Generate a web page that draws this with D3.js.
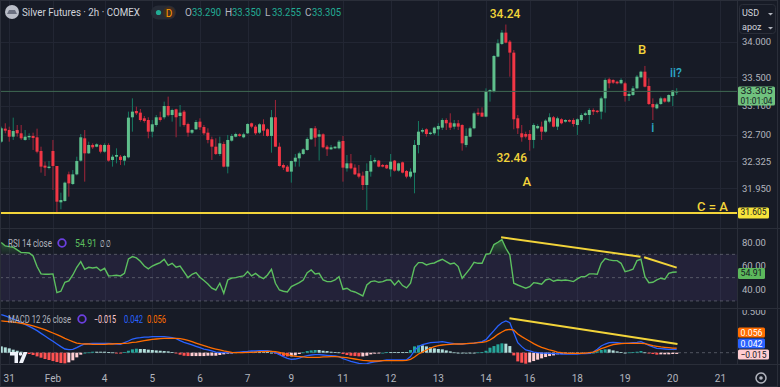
<!DOCTYPE html>
<meta charset="utf-8">
<script src="https://d3js.org/d3.v7.min.js"></script>
<style>
body { margin: 0; background: #171b26; }
svg text { font-family: Roboto, "Liberation Sans", sans-serif; }
</style>
<body>
<div id="chart"></div>
<script>

// ---- data (2h bars, index 0..170) ----
// [open, high, low, close]
var ohlc = [
 [32.602,32.812,32.588,32.789],[32.784,32.859,32.719,32.756],[32.765,32.812,32.602,32.672],[32.672,32.938,32.626,32.751],
 [32.765,32.835,32.672,32.719],[32.719,32.835,32.626,32.649],[32.626,32.765,32.616,32.672],[32.663,32.719,32.626,32.682],
 [32.682,32.728,32.486,32.654],[32.663,32.784,32.439,32.462],[32.472,32.532,32.169,32.253],[32.267,32.323,32.122,32.239],
 [32.234,32.332,32.215,32.253],[32.472,32.626,31.926,32.262],[32.262,32.262,31.600,31.763],[31.754,31.889,31.656,31.786],
 [31.772,32.043,31.763,32.029],[32.145,32.183,31.833,32.019],[32.010,32.206,31.996,32.145],[32.145,32.392,32.131,32.332],
 [32.337,32.709,32.323,32.663],[32.649,32.765,32.043,32.439],[32.439,32.602,32.430,32.556],[32.556,32.579,32.500,32.523],
 [32.532,32.579,32.523,32.565],[32.556,32.565,32.439,32.462],[32.462,32.579,32.448,32.556],[32.556,32.579,32.323,32.337],
 [32.346,32.420,32.253,32.392],[32.392,32.509,32.299,32.416],[32.392,32.416,32.276,32.346],[32.337,32.416,32.271,32.402],
 [32.383,33.022,32.369,32.938],[32.943,33.208,32.742,33.022],[33.031,33.092,32.975,32.999],[33.008,33.059,32.882,32.905],
 [32.929,32.961,32.868,32.891],[32.905,32.943,32.649,32.742],[32.742,32.905,32.663,32.845],[32.835,32.975,32.812,32.943],
 [32.943,33.022,32.882,32.905],[32.943,33.162,32.915,33.101],[33.101,33.232,32.952,32.971],[32.975,33.064,32.882,33.045],
 [33.054,33.064,32.663,32.943],[32.961,33.115,32.812,33.008],[33.022,33.045,32.812,32.835],[32.849,32.868,32.672,32.728],
 [32.728,32.779,32.709,32.765],[32.775,32.905,32.765,32.877],[32.882,32.929,32.765,32.803],[32.807,32.835,32.696,32.719],
 [32.728,32.789,32.579,32.626],[32.635,32.672,32.346,32.532],[32.532,32.649,32.416,32.430],[32.430,32.672,32.402,32.579],
 [32.570,32.602,32.243,32.253],[32.253,32.696,32.159,32.626],[32.616,32.709,32.602,32.682],[32.672,32.728,32.663,32.709],
 [32.705,32.719,32.672,32.682],[32.663,32.728,32.649,32.705],[32.719,32.859,32.709,32.849],[32.859,32.868,32.789,32.812],
 [32.812,32.835,32.696,32.719],[32.728,32.859,32.709,32.845],[32.845,32.915,32.682,32.756],[32.775,32.789,32.672,32.682],
 [32.682,33.045,32.448,32.943],[32.943,33.185,32.532,32.532],[32.532,32.588,32.253,32.262],[32.276,32.299,32.206,32.239],
 [32.253,32.276,32.178,32.183],[32.183,32.337,32.029,32.332],[32.323,32.430,32.253,32.378],[32.369,32.462,32.253,32.439],
 [32.430,32.509,32.416,32.495],[32.486,32.663,32.476,32.640],[32.635,32.793,32.626,32.789],[32.789,32.821,32.532,32.658],
 [32.672,32.765,32.337,32.705],[32.705,32.719,32.509,32.523],[32.532,32.556,32.402,32.495],[32.495,32.556,32.486,32.523],
 [32.509,32.542,32.500,32.532],[32.509,32.626,32.495,32.602],[32.612,32.682,32.043,32.239],[32.229,32.416,32.183,32.299],
 [32.299,32.430,32.215,32.229],[32.239,32.285,32.136,32.145],[32.159,32.276,32.089,32.113],[32.127,32.183,31.926,31.996],
 [31.996,32.299,31.646,32.192],[32.183,32.416,32.113,32.332],[32.323,32.378,32.299,32.346],[32.337,32.346,32.243,32.253],
 [32.276,32.290,32.243,32.253],[32.276,32.285,32.220,32.229],[32.215,32.430,32.113,32.323],[32.337,32.346,32.183,32.197],
 [32.197,32.309,32.183,32.299],[32.313,32.323,32.159,32.169],[32.192,32.206,32.089,32.113],[32.113,32.229,32.089,32.183],
 [32.169,32.626,31.880,32.556],[32.556,32.891,32.439,32.742],[32.742,32.789,32.719,32.765],[32.775,32.789,32.672,32.709],
 [32.709,32.742,32.696,32.728],[32.719,32.812,32.696,32.798],[32.775,32.859,32.682,32.821],[32.798,32.929,32.765,32.905],
 [32.905,32.929,32.765,32.859],[32.868,32.999,32.765,32.798],[32.812,32.905,32.775,32.859],[32.859,32.905,32.765,32.812],
 [32.835,32.845,32.476,32.579],[32.556,32.789,32.523,32.682],[32.672,32.812,32.663,32.789],[32.789,33.022,32.775,32.999],
 [33.008,33.068,32.961,32.985],[33.008,33.082,32.952,32.952],[32.952,33.348,32.943,33.302],[33.297,33.334,33.162,33.325],
 [33.302,33.814,33.288,33.800],[33.791,34.033,33.782,33.978],[33.968,34.164,33.954,34.127],[34.127,34.240,33.978,33.987],
 [34.001,34.024,33.511,33.847],[33.847,33.884,32.775,32.915],[32.929,32.975,32.709,32.789],[32.719,32.835,32.602,32.663],
 [32.709,32.742,32.649,32.672],[32.709,32.765,32.476,32.626],[32.626,32.859,32.509,32.835],[32.789,32.845,32.775,32.821],
 [32.812,32.882,32.626,32.742],[32.742,32.915,32.728,32.896],[32.882,32.999,32.859,32.943],[32.943,32.961,32.803,32.812],
 [32.812,32.952,32.765,32.929],[32.915,32.929,32.845,32.859],[32.882,32.915,32.868,32.905],[32.905,32.915,32.872,32.882],
 [32.905,32.929,32.812,32.849],[32.835,32.929,32.696,32.915],[32.905,32.999,32.882,32.975],[32.975,33.022,32.961,32.999],
 [32.975,33.068,32.849,33.045],[33.045,33.068,32.975,33.022],[33.036,33.045,32.999,33.017],[33.022,33.232,32.915,33.208],
 [33.208,33.488,33.008,33.465],[33.474,33.497,33.348,33.418],[33.465,33.474,33.409,33.427],[33.441,33.455,33.404,33.418],
 [33.418,33.488,33.404,33.465],[33.418,33.441,33.162,33.241],[33.241,33.302,33.171,33.269],[33.255,33.381,33.241,33.348],
 [33.348,33.535,33.334,33.511],[33.502,33.595,33.488,33.581],[33.581,33.661,33.362,33.371],[33.381,33.488,33.115,33.129],
 [33.129,33.208,32.905,33.082],[33.068,33.148,33.054,33.124],[33.129,33.232,33.115,33.208],[33.208,33.218,33.148,33.162],
 [33.162,33.264,33.148,33.255],[33.241,33.325,33.101,33.316],[33.290,33.350,33.255,33.305]
];

var rsi = [
 80.1,77.2,76.6,76.1,73.8,71.5,71.5,71.2,68.6,59.5,53.2,52.9,52.9,53.2,37.2,38.3,46.0,47.2,52.3,58.9,
 63.8,57.2,58.9,58.3,58.9,56.0,58.0,51.5,51.7,52.0,51.5,53.7,66.1,68.1,66.9,64.0,60.0,57.5,60.0,61.5,
 62.9,65.8,60.6,62.3,58.9,60.0,54.9,50.0,52.9,54.3,50.3,47.5,44.6,40.9,39.4,45.2,36.6,48.0,49.7,50.0,
 50.9,51.5,55.2,51.5,53.7,50.9,49.2,52.3,57.2,45.2,39.4,38.3,37.7,42.3,44.0,45.7,48.0,54.3,56.6,53.2,
 53.7,48.0,46.6,46.6,48.0,50.9,40.0,40.9,38.6,37.7,36.0,34.3,43.7,46.6,47.2,46.0,46.6,48.0,48.0,43.7,
 47.5,43.2,41.2,45.2,58.9,62.9,62.9,60.9,62.0,62.6,64.3,65.8,63.8,61.8,62.6,59.5,49.5,53.7,58.0,63.2,
 62.3,62.3,70.1,70.6,78.4,80.4,82.7,75.2,69.5,45.2,43.7,42.3,40.9,42.3,45.7,45.2,44.3,48.0,48.9,46.9,
 48.0,47.5,48.0,47.5,46.6,48.9,50.9,50.9,53.2,53.2,52.9,62.3,66.3,65.2,64.6,64.6,62.3,55.2,56.0,57.2,
 64.6,65.8,50.9,45.7,46.0,48.0,49.5,48.6,53.7,54.6,54.91
];

var macdLine = [
 0.464,0.448,0.431,0.411,0.391,0.370,0.346,0.322,0.297,0.269,0.236,0.204,0.171,0.139,0.106,0.074,0.045,0.037,0.041,0.061,
 0.086,0.106,0.110,0.114,0.114,0.114,0.114,0.114,0.110,0.106,0.102,0.122,0.143,0.167,0.179,0.183,0.191,0.191,0.196,0.196,
 0.196,0.196,0.191,0.183,0.171,0.147,0.126,0.110,0.094,0.078,0.061,0.045,0.033,0.021,0.008,0.004,0.000,0.000,0.000,0.004,
 0.008,0.013,0.016,0.021,0.021,0.025,0.025,0.025,0.016,0.000,-0.024,-0.048,-0.069,-0.081,-0.077,-0.065,-0.048,-0.036,-0.028,-0.024,
 -0.024,-0.028,-0.032,-0.036,-0.040,-0.048,-0.073,-0.089,-0.105,-0.117,-0.130,-0.138,-0.134,-0.122,-0.113,-0.105,-0.097,-0.089,-0.089,-0.089,
 -0.089,-0.089,-0.085,-0.048,0.025,0.074,0.098,0.110,0.122,0.126,0.130,0.135,0.126,0.118,0.110,0.106,0.106,0.110,0.114,0.118,
 0.126,0.135,0.159,0.216,0.269,0.326,0.366,0.387,0.366,0.244,0.122,0.074,0.033,0.021,0.008,0.000,-0.004,-0.004,-0.008,-0.012,
 -0.012,-0.016,-0.016,-0.016,-0.016,-0.016,-0.012,-0.012,-0.008,0.008,0.041,0.082,0.106,0.122,0.126,0.122,0.118,0.114,0.118,0.122,
 0.126,0.135,0.114,0.090,0.070,0.053,0.049,0.045,0.041,0.041,0.042
];

var signalLine = [
 0.387,0.383,0.378,0.374,0.366,0.358,0.350,0.338,0.326,0.313,0.297,0.281,0.261,0.240,0.220,0.200,0.175,0.155,0.135,0.118,
 0.110,0.106,0.106,0.102,0.102,0.102,0.102,0.106,0.106,0.110,0.110,0.114,0.118,0.126,0.130,0.139,0.147,0.155,0.163,0.167,
 0.171,0.175,0.175,0.175,0.175,0.171,0.163,0.151,0.135,0.118,0.102,0.086,0.070,0.057,0.045,0.033,0.021,0.013,0.004,0.000,
 0.000,0.000,0.004,0.004,0.008,0.013,0.013,0.016,0.016,0.013,0.004,-0.008,-0.024,-0.036,-0.044,-0.048,-0.052,-0.057,-0.057,-0.057,
 -0.057,-0.052,-0.052,-0.048,-0.048,-0.052,-0.057,-0.061,-0.069,-0.077,-0.085,-0.093,-0.097,-0.101,-0.101,-0.101,-0.097,-0.097,-0.097,-0.097,
 -0.097,-0.097,-0.093,-0.081,-0.052,-0.016,0.008,0.033,0.057,0.074,0.086,0.094,0.098,0.102,0.106,0.106,0.106,0.110,0.114,0.118,
 0.122,0.126,0.135,0.155,0.187,0.224,0.252,0.277,0.285,0.277,0.228,0.196,0.167,0.139,0.110,0.086,0.065,0.049,0.033,0.021,
 0.008,0.000,-0.004,-0.008,-0.008,-0.008,-0.008,-0.004,0.000,0.008,0.025,0.049,0.065,0.082,0.098,0.106,0.110,0.114,0.114,0.114,
 0.114,0.114,0.110,0.098,0.086,0.078,0.070,0.065,0.061,0.057,0.056
];

var histogram = [
 0.077,0.065,0.053,0.037,0.024,0.012,-0.004,-0.016,-0.028,-0.045,-0.061,-0.077,-0.089,-0.102,-0.114,-0.126,-0.130,-0.118,-0.093,-0.057,
 -0.024,0.000,0.004,0.012,0.012,0.012,0.012,0.008,0.004,-0.004,-0.008,0.008,0.024,0.041,0.049,0.045,0.045,0.037,0.033,0.028,
 0.024,0.020,0.016,0.008,-0.004,-0.024,-0.037,-0.041,-0.041,-0.041,-0.041,-0.041,-0.037,-0.037,-0.037,-0.028,-0.020,-0.012,-0.004,0.004,
 0.008,0.012,0.012,0.016,0.012,0.012,0.012,0.008,0.000,-0.012,-0.028,-0.041,-0.045,-0.045,-0.033,-0.016,0.004,0.020,0.028,0.033,
 0.033,0.024,0.020,0.012,0.008,0.004,-0.016,-0.028,-0.037,-0.041,-0.045,-0.045,-0.037,-0.020,-0.012,-0.004,0.000,0.008,0.008,0.008,
 0.008,0.008,0.008,0.033,0.077,0.089,0.089,0.077,0.065,0.053,0.045,0.041,0.028,0.016,0.004,0.000,0.000,0.000,0.000,0.000,
 0.004,0.008,0.024,0.061,0.081,0.102,0.114,0.110,0.081,-0.033,-0.106,-0.122,-0.134,-0.118,-0.102,-0.085,-0.069,-0.053,-0.041,-0.033,
 -0.020,-0.016,-0.012,-0.008,-0.008,-0.008,-0.004,-0.008,-0.008,0.000,0.016,0.033,0.041,0.041,0.028,0.016,0.008,0.000,0.004,0.008,
 0.012,0.020,0.004,-0.008,-0.016,-0.024,-0.020,-0.020,-0.020,-0.016,-0.015
];

// time axis labels (bar index of each label)
var timeLabels = ["31","Feb","4","5","6","7","9","11","12","13","14","16","18","19","20","21"];
var timeBars   = [2, 13, 26, 38, 50, 62, 73, 86, 98, 110, 122, 133, 145, 157, 169, 181];

var priceTicks = [34.0, 33.5, 33.1, 32.7, 32.325, 31.95];
var rsiTicks = [80, 60, 40];
var macdTicks = [0.5];

var lastPrice = 33.305, supportLevel = 31.605;

// wave labels: text, bar, price (baseline)
var waveLabels = [
 {t: "34.24", bar: 126.8, p: 34.327, c: "y", s: 12},
 {t: "32.46", bar: 128.5, p: 32.313, c: "y", s: 12},
 {t: "A", bar: 132.3, p: 31.982, c: "y", s: 13},
 {t: "B", bar: 161.3, p: 33.828, c: "y", s: 13},
 {t: "ii?", bar: 169.8, p: 33.513, c: "t", s: 12},
 {t: "i", bar: 164.0, p: 32.744, c: "t", s: 12},
 {t: "C = A", bar: 179.0, p: 31.632, c: "y", s: 13}
];

// trend lines drawn on indicators: [bar, value]
var rsiTrend = [[[125.8, 84.7], [160.9, 68.0]], [[161.8, 67.5], [170.0, 58.6]]];
var macdTrend = [[127.9, 0.42], [170.2, 0.106]];

// ---- layout ----
var W = 780, H = 387, plotRight = 737;
var mainB = 228, rsiT = 229, rsiB = 308, macdT = 309, macdB = 364;

var BG = "#171b26", GRID = "#222633", SEP = "#2a2e39", AX = "#b2b5be";
var UP = "#5fbf8c", DN = "#f23645", UPW = "#167a62", DNW = "#a3253a";
var YEL = "#f2d43a", TEAL = "#2aa7c6";

var svg = d3.select("#chart").append("svg")
  .attr("width", W).attr("height", H);

svg.append("rect").attr("width", W).attr("height", H).attr("fill", BG);

var x = d3.scaleLinear().domain([0, 170]).range([1.3, 676.7]);
var y = d3.scaleLinear().domain([31.95, 34.0]).range([188.3, 41.7]);
var yR = d3.scaleLinear().domain([40, 80]).range([289.3, 242.7]);
var yM = d3.scaleLinear().domain([0, 0.5]).range([352.7, 311.7]);

var defs = svg.append("defs");
function clip(id, y0, y1) {
  defs.append("clipPath").attr("id", id).append("rect")
    .attr("x", 0).attr("y", y0).attr("width", plotRight).attr("height", y1 - y0);
  return svg.append("g").attr("clip-path", "url(#" + id + ")");
}
var gMain = clip("cm", 0, mainB);
var gRsi = clip("cr", rsiT, rsiB);
var gMacd = clip("cmd", macdT, macdB);

// grid
gMain.selectAll(".hg").data(priceTicks).enter().append("line")
  .attr("x1", 0).attr("x2", plotRight)
  .attr("y1", function(d) { return Math.round(y(d)) + 0.5; })
  .attr("y2", function(d) { return Math.round(y(d)) + 0.5; })
  .attr("stroke", GRID);
[gMain, gRsi, gMacd].forEach(function(g) {
  g.selectAll(".vg").data(timeBars).enter().append("line")
    .attr("x1", function(d) { return Math.round(x(d)) + 0.5; })
    .attr("x2", function(d) { return Math.round(x(d)) + 0.5; })
    .attr("y1", 0).attr("y2", H)
    .attr("stroke", GRID);
});

// candles
var cw = 3;
var candle = gMain.selectAll(".c").data(ohlc).enter().append("g");
candle.append("line")
  .attr("x1", function(d, i) { return x(i); })
  .attr("x2", function(d, i) { return x(i); })
  .attr("y1", function(d) { return y(d[1]); })
  .attr("y2", function(d) { return y(d[2]); })
  .attr("stroke", function(d) { return d[3] >= d[0] ? UPW : DNW; })
  .attr("stroke-width", 1);
candle.append("rect")
  .attr("x", function(d, i) { return x(i) - cw / 2; })
  .attr("width", cw)
  .attr("y", function(d) { return y(Math.max(d[0], d[3])); })
  .attr("height", function(d) { return Math.max(1, Math.abs(y(d[0]) - y(d[3]))); })
  .attr("fill", function(d) { return d[3] >= d[0] ? UP : DN; });

// last price line
gMain.append("line")
  .attr("x1", 0).attr("x2", plotRight)
  .attr("y1", y(lastPrice)).attr("y2", y(lastPrice))
  .attr("stroke", "#3f6a52").attr("stroke-width", 1);

// support line  C = A
gMain.append("line")
  .attr("x1", 0).attr("x2", plotRight)
  .attr("y1", y(supportLevel)).attr("y2", y(supportLevel))
  .attr("stroke", YEL).attr("stroke-width", 2);

// wave labels
gMain.selectAll(".wl").data(waveLabels).enter().append("text")
  .attr("x", function(d) { return x(d.bar); })
  .attr("y", function(d) { return y(d.p); })
  .attr("text-anchor", "middle")
  .attr("font-size", function(d) { return d.s; })
  .attr("font-weight", 500)
  .attr("fill", function(d) { return d.c == "y" ? YEL : TEAL; })
  .text(function(d) { return d.t; });

// ---- RSI pane ----
gRsi.append("rect")
  .attr("x", 0).attr("width", plotRight)
  .attr("y", yR(70)).attr("height", yR(30) - yR(70))
  .attr("fill", "rgba(126,87,194,0.12)");
[70, 50, 30].forEach(function(v) {
  gRsi.append("line").attr("x1", 0).attr("x2", plotRight)
    .attr("y1", yR(v)).attr("y2", yR(v))
    .attr("stroke", "#787b86").attr("stroke-opacity", 0.6)
    .attr("stroke-dasharray", "3,3");
});
var grad = defs.append("linearGradient").attr("id", "ob")
  .attr("x1", 0).attr("x2", 0)
  .attr("gradientUnits", "userSpaceOnUse")
  .attr("y1", yR(85)).attr("y2", yR(70));
grad.append("stop").attr("offset", 0).attr("stop-color", "rgba(76,175,80,0.55)");
grad.append("stop").attr("offset", 1).attr("stop-color", "rgba(76,175,80,0.05)");
gRsi.append("path").datum(rsi)
  .attr("d", d3.area()
    .x(function(d, i) { return x(i); })
    .y0(yR(70))
    .y1(function(d) { return yR(Math.max(d, 70)); }))
  .attr("fill", "url(#ob)");
gRsi.append("path").datum(rsi)
  .attr("d", d3.line().x(function(d, i) { return x(i); }).y(function(d) { return yR(d); }))
  .attr("fill", "none").attr("stroke", "#5cbf5f").attr("stroke-width", 1.4);
rsiTrend.forEach(function(seg) {
  gRsi.append("line")
    .attr("x1", x(seg[0][0])).attr("y1", yR(seg[0][1]))
    .attr("x2", x(seg[1][0])).attr("y2", yR(seg[1][1]))
    .attr("stroke", YEL).attr("stroke-width", 2);
});

// ---- MACD pane ----
gMacd.append("line").attr("x1", 0).attr("x2", plotRight)
  .attr("y1", yM(0)).attr("y2", yM(0))
  .attr("stroke", "#787b86").attr("stroke-opacity", 0.6).attr("stroke-dasharray", "3,3");
gMacd.selectAll(".h").data(histogram).enter().append("rect")
  .attr("x", function(d, i) { return x(i) - 1.5; })
  .attr("width", 3)
  .attr("y", function(d) { return Math.min(yM(d), yM(0)); })
  .attr("height", function(d) { return Math.max(0.8, Math.abs(yM(d) - yM(0))); })
  .attr("fill", function(d, i) {
    var prev = i > 0 ? histogram[i - 1] : d;
    if (d >= 0) return d > prev ? "#26a69a" : "#b2dfdb";
    return d < prev ? "#ff5252" : "#ffcdd2";
  });
function mline(arr, color) {
  gMacd.append("path").datum(arr)
    .attr("d", d3.line().x(function(d, i) { return x(i); }).y(function(d) { return yM(d); }))
    .attr("fill", "none").attr("stroke", color).attr("stroke-width", 1.3);
}
mline(macdLine, "#2962ff");
mline(signalLine, "#ff6d00");
gMacd.append("line")
  .attr("x1", x(macdTrend[0][0])).attr("y1", yM(macdTrend[0][1]))
  .attr("x2", x(macdTrend[1][0])).attr("y2", yM(macdTrend[1][1]))
  .attr("stroke", YEL).attr("stroke-width", 2);

// TradingView mark
var tv = svg.append("g").attr("fill", "#f0f3fa");
tv.append("path").attr("d", "M10,352 h8 v11 h-3.5 v-7.5 h-4.5 z");
tv.append("circle").attr("cx", 20.5).attr("cy", 354).attr("r", 1.8);
tv.append("path").attr("d", "M23.5,352 h4 l-4.5,11 h-4 z");

// separators
[mainB + 0.5, rsiB + 0.5, macdB + 0.5].forEach(function(v) {
  svg.append("line").attr("x1", 0).attr("x2", W).attr("y1", v).attr("y2", v)
    .attr("stroke", SEP);
});
svg.append("line").attr("x1", plotRight + 0.5).attr("x2", plotRight + 0.5)
  .attr("y1", 0).attr("y2", macdB).attr("stroke", SEP);
svg.append("rect").attr("x", 0.5).attr("y", 0.5).attr("width", W - 3).attr("height", H - 1)
  .attr("fill", "none").attr("stroke", SEP);

// ---- right axis ----
var FS = 9.5;
function axisText(g, yy, t) {
  g.append("text").attr("x", 742).attr("y", yy + 3.4)
    .attr("font-size", FS).attr("fill", AX).text(t);
}
var gAx = svg.append("g");
priceTicks.forEach(function(v) { axisText(gAx, y(v), d3.format(".3f")(v)); });
rsiTicks.forEach(function(v) { axisText(gAx, yR(v), d3.format(".2f")(v)); });
defs.append("clipPath").attr("id", "cmax").append("rect")
  .attr("x", plotRight).attr("y", macdT + 1).attr("width", 50).attr("height", macdB - macdT);
var gMAx = svg.append("g").attr("clip-path", "url(#cmax)");
macdTicks.forEach(function(v) { axisText(gMAx, yM(v), d3.format(".3f")(v)); });

function tag(yc, h, w, fill, txt, color, fs) {
  svg.append("rect").attr("x", plotRight + 1).attr("y", yc - h / 2)
    .attr("width", w).attr("height", h).attr("rx", 1.5).attr("fill", fill);
  txt.forEach(function(t, k) {
    svg.append("text").attr("x", plotRight + 3.5).attr("y", yc - h / 2 + 8 + k * 9.5)
      .attr("font-size", fs || FS).attr("fill", color)
      .attr("textLength", w - 5).attr("lengthAdjust", "spacingAndGlyphs")
      .text(t);
  });
}
tag(y(lastPrice) + 4.5, 19, 37, "#70c27e", ["33.305", "01:01:04"], "#131722", 8.8);
tag(y(supportLevel), 11, 31, "#f6e33b", ["31.605"], "#131722");
tag(273.5, 11, 27, "#5cb85c", ["54.91"], "#131722");
tag(332.5, 10, 27, "#ff6d00", ["0.056"], "#ffffff");
tag(343.5, 10, 27, "#2962ff", ["0.042"], "#ffffff");
tag(354.5, 10, 31, "#ffcdd2", ["\u22120.015"], "#131722");

// USD box
svg.append("rect").attr("x", 739.5).attr("y", 4.5).attr("width", 36).attr("height", 29)
  .attr("rx", 3).attr("fill", BG).attr("stroke", SEP);
svg.append("text").attr("x", 742).attr("y", 16).attr("font-size", 9).attr("fill", "#d1d4dc").text("USD");
svg.append("text").attr("x", 742).attr("y", 30).attr("font-size", 9).attr("fill", "#d1d4dc").text("apoz");
[13, 27].forEach(function(v) {
  svg.append("path").attr("d", "M768," + v + " l2.5,2.5 l2.5,-2.5 z").attr("fill", "#b2b5be");
});

// ---- time axis ----
svg.selectAll(".tl").data(timeLabels).enter().append("text")
  .attr("x", function(d, i) { return x(timeBars[i]); })
  .attr("y", 382)
  .attr("text-anchor", "middle")
  .attr("font-size", 10).attr("fill", AX)
  .text(function(d) { return d; });
svg.append("circle").attr("cx", 761).attr("cy", 378).attr("r", 5)
  .attr("fill", "none").attr("stroke", AX).attr("stroke-width", 1.5);
svg.append("circle").attr("cx", 761).attr("cy", 378).attr("r", 1.8).attr("fill", AX);

// ---- legends ----
function label(xx, yy, t, color, len, size) {
  var e = svg.append("text").attr("x", xx).attr("y", yy)
    .attr("font-size", size || 10).attr("fill", color).text(t);
  if (len) e.attr("textLength", len).attr("lengthAdjust", "spacingAndGlyphs");
  return e;
}
svg.append("circle").attr("cx", 12).attr("cy", 12).attr("r", 7).attr("fill", "#b9bdc7");
svg.append("path").attr("d", "M7,14 h10 l-2,-4 h-6 z").attr("fill", "#6b7080");
label(22, 16, "Silver Futures \u00b7 2h \u00b7 COMEX", "#d1d4dc", 118, 11);
svg.append("rect").attr("x", 151).attr("y", 5.5).attr("width", 25).attr("height", 14).attr("rx", 7).attr("fill", "#262b36");
svg.append("circle").attr("cx", 158.5).attr("cy", 12.5).attr("r", 2.6).attr("fill", "#22ab94");
svg.append("rect").attr("x", 163).attr("y", 6.5).attr("width", 12).attr("height", 12).attr("rx", 6).attr("fill", "#3f2e22");
svg.append("text").attr("x", 169).attr("y", 16.5).attr("text-anchor", "middle").attr("font-size", 10)
  .attr("fill", "#ff9800").text("D");
[["O", "33.290"], ["H", "33.350"], ["L", "33.255"], ["C", "33.305"]].forEach(function(p, k) {
  var x0 = 185 + k * 40;
  label(x0, 16, p[0], AX, 0, 10);
  label(x0 + 7, 16, p[1], "#22ab94", 29, 10);
});

function ring(cx, cy) {
  svg.append("circle").attr("cx", cx).attr("cy", cy).attr("r", 3.8)
    .attr("fill", "none").attr("stroke", "#6b3fe0").attr("stroke-width", 1.8);
}
label(8, 247, "RSI 14 close", AX, 44);
ring(62, 243);
label(75, 247, "54.91", "#5cbf5f", 22);
label(100, 247, "\u2205 \u2205", "#d1d4dc", 11);

label(8, 323, "MACD 12 26 close", AX, 63);
ring(82, 319);
label(94, 323, "\u22120.015", "#ffcdd2", 22);
label(124, 323, "0.042", "#2962ff", 19);
label(147, 323, "0.056", "#ff6d00", 19);

</script>
